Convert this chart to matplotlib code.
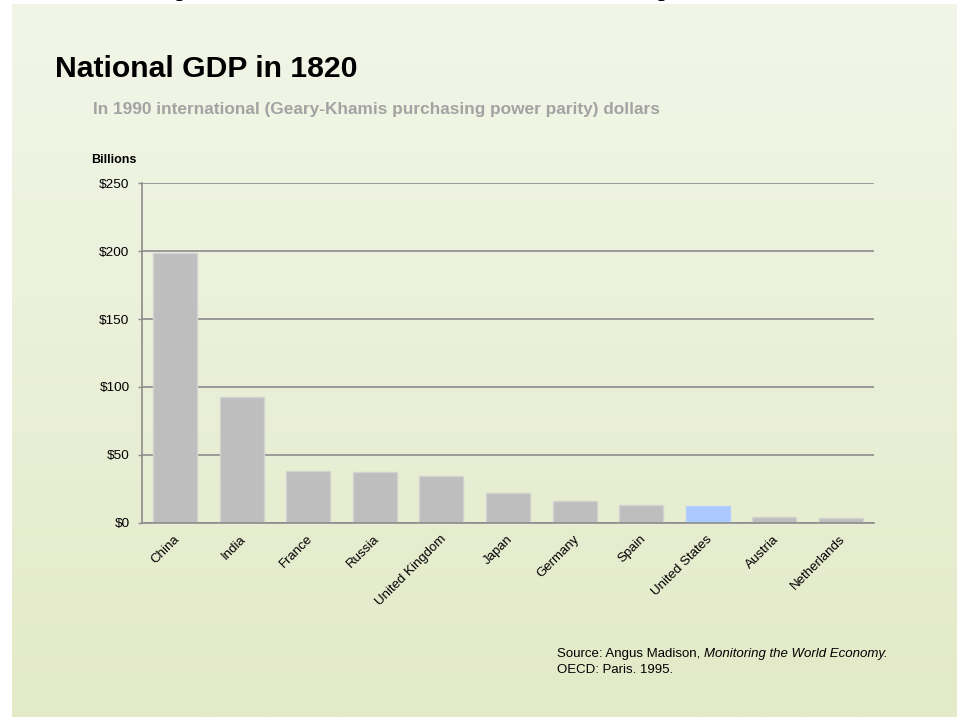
import numpy as np
import matplotlib
matplotlib.use("Agg")
import matplotlib.pyplot as plt
from matplotlib.colors import LinearSegmentedColormap

# GDP in 1820, billions of 1990 international dollars
countries = ["China", "India", "France", "Russia", "United Kingdom", "Japan",
             "Germany", "Spain", "United States", "Austria", "Netherlands"]
gdp = [199.0, 92.6, 37.9, 37.6, 34.5, 21.7, 16.3, 12.9, 12.4, 4.2, 3.6]
highlight = "United States"
yticks = [0, 50, 100, 150, 200, 250]
ytick_labels = ["$0", "$50", "$100", "$150", "$200", "$250"]

W, H = 957, 717
fig = plt.figure(figsize=(W / 100, H / 100), dpi=100)
fig.patch.set_facecolor("white")
plt.rcParams["font.family"] = ["Liberation Sans", "DejaVu Sans"]

def px(x, y):
    return x / W, 1 - y / H

# slide background with a soft vertical gradient
bg = fig.add_axes([12 / W, 0, 1 - 12 / W, 1 - 4 / H], zorder=-10)
grad = LinearSegmentedColormap.from_list("slide", ["#f2f6e9", "#e3eac7"])
bg.imshow(np.linspace(0, 1, 256).reshape(-1, 1), aspect="auto", cmap=grad,
          extent=[0, 1, 0, 1], origin="upper")
bg.set_axis_off()

# descenders of the heading above this slide
for gx in (183, 665):
    fig.text(gx / W, 1 + 5 / H, "p", fontsize=20, family="Liberation Serif",
             ha="center", va="baseline", color="black")

fig.text(*px(55, 77), "National GDP in 1820", fontsize=21.7, fontweight="bold",
         color="black", ha="left", va="baseline")
fig.text(*px(93, 114),
         "In 1990 international (Geary-Khamis purchasing power parity) dollars",
         fontsize=12.45, fontweight="bold", color="#a3a3a3", ha="left", va="baseline")
fig.text(*px(91, 163), "Billions", fontsize=9, fontweight="bold", color="black",
         ha="left", va="baseline")

left, right, top, bottom = 142, 874, 183.3, 522.7
ax = fig.add_axes([left / W, 1 - bottom / H, (right - left) / W, (bottom - top) / H])
ax.set_facecolor("none")

x = np.arange(len(countries))
colors = ["#a9c9ff" if c == highlight else "#bebebe" for c in countries]
edges = ["#b9d3ff" if c == highlight else "#d2d2d2" for c in countries]
ax.bar(x, gdp, width=0.66, color=colors, edgecolor=edges, linewidth=1, zorder=3)

ax.set_xlim(-0.5, len(countries) - 0.5)
ax.set_ylim(0, 250)
ax.set_yticks(yticks)
ax.set_yticklabels(ytick_labels)
ax.yaxis.grid(True, color="#8c8c8c", linewidth=1.2, zorder=1)
ax.set_axisbelow(True)

for side in ("top", "right"):
    ax.spines[side].set_visible(False)
for side in ("left", "bottom"):
    ax.spines[side].set_color("#8c8c8c")
    ax.spines[side].set_linewidth(1.2)
ax.spines["bottom"].set_zorder(4)

ax.tick_params(axis="y", length=3, width=1, color="#8c8c8c", pad=6, labelsize=9.7,
               labelcolor="black")
ax.tick_params(axis="x", length=0, pad=10.5, labelsize=9.5, labelcolor="black")
ax.set_xticks(x)
ax.set_xticklabels(countries, rotation=45, ha="right", rotation_mode="anchor",
                   va="center")
for lbl in ax.get_xticklabels():
    lbl.set_transform(lbl.get_transform() +
                      matplotlib.transforms.ScaledTranslation(2.5 / 100, 0, fig.dpi_scale_trans))

t1 = fig.text(*px(557, 657), "Source: Angus Madison, ", fontsize=9.5, color="black",
              ha="left", va="baseline")
fig.canvas.draw()
bb = t1.get_window_extent(fig.canvas.get_renderer())
fig.text(bb.x1 / W, 1 - 657 / H, "Monitoring the World Economy.", fontsize=9.5,
         style="italic", color="black", ha="left", va="baseline")
fig.text(*px(557, 673), "OECD: Paris. 1995.", fontsize=9.5, color="black",
         ha="left", va="baseline")

fig.savefig("out.png", dpi=100, facecolor=fig.get_facecolor())
